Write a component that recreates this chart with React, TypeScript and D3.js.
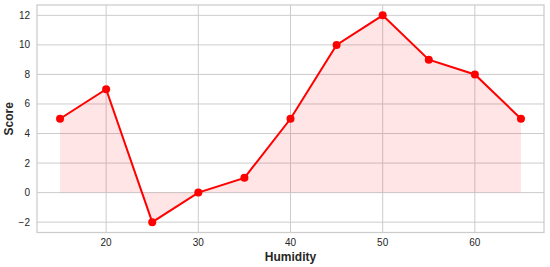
import React from "react";
import * as d3 from "d3";

const humidity = [15, 20, 25, 30, 35, 40, 45, 50, 55, 60, 65];
const score = [5, 7, -2, 0, 1, 5, 10, 12, 9, 8, 5];
const xTicks = [20, 30, 40, 50, 60];
const yTicks = [-2, 0, 2, 4, 6, 8, 10, 12];

export default function App() {
  const W = 550, H = 267;
  const left = 37, right = 544, top = 5, bottom = 232.5;
  const x = d3.scaleLinear().domain([12.5, 67.5]).range([left, right]);
  const y = d3.scaleLinear().domain([-2.7, 12.7]).range([bottom, top]);
  const pts = humidity.map((h, i) => [h, score[i]] as [number, number]);
  const line = d3.line<[number, number]>().x(d => x(d[0])).y(d => y(d[1]));
  const area = d3.area<[number, number]>().x(d => x(d[0])).y0(y(0)).y1(d => y(d[1]));
  const font = "'Liberation Sans', Arial, sans-serif";
  const fmt = (v: number) => (v < 0 ? "\u2212" + Math.abs(v) : String(v));
  return (
    <svg width={W} height={H} style={{ position: "absolute", left: 0, top: 0, background: "#fff" }}>
      {xTicks.map(t => (
        <line key={"gx" + t} x1={x(t)} x2={x(t)} y1={top} y2={bottom} stroke="#cccccc" strokeWidth={1} />
      ))}
      {yTicks.map(t => (
        <line key={"gy" + t} x1={left} x2={right} y1={y(t)} y2={y(t)} stroke="#cccccc" strokeWidth={1} />
      ))}
      <rect x={left} y={top} width={right - left} height={bottom - top} fill="none" stroke="#cccccc" strokeWidth={1.25} />
      <path d={area(pts) || ""} fill="#ff0000" fillOpacity={0.1} />
      <path d={line(pts) || ""} fill="none" stroke="#ff0000" strokeWidth={2} />
      {pts.map((p, i) => (
        <circle key={i} cx={x(p[0])} cy={y(p[1])} r={4} fill="#ff0000" />
      ))}
      {xTicks.map(t => (
        <text key={"tx" + t} x={x(t)} y={246} textAnchor="middle" fontFamily={font} fontSize={10} fill="#262626">
          {t}
        </text>
      ))}
      {yTicks.map(t => (
        <text key={"ty" + t} x={30} y={y(t) + 3.5} textAnchor="end" fontFamily={font} fontSize={10} fill="#262626">
          {fmt(t)}
        </text>
      ))}
      <text x={(left + right) / 2} y={261} textAnchor="middle" fontFamily={font} fontSize={12} fontWeight="bold" fill="#262626">
        Humidity
      </text>
      <text transform={`translate(13, ${(top + bottom) / 2}) rotate(-90)`} textAnchor="middle" fontFamily={font} fontSize={12} fontWeight="bold" fill="#262626">
        Score
      </text>
    </svg>
  );
}
